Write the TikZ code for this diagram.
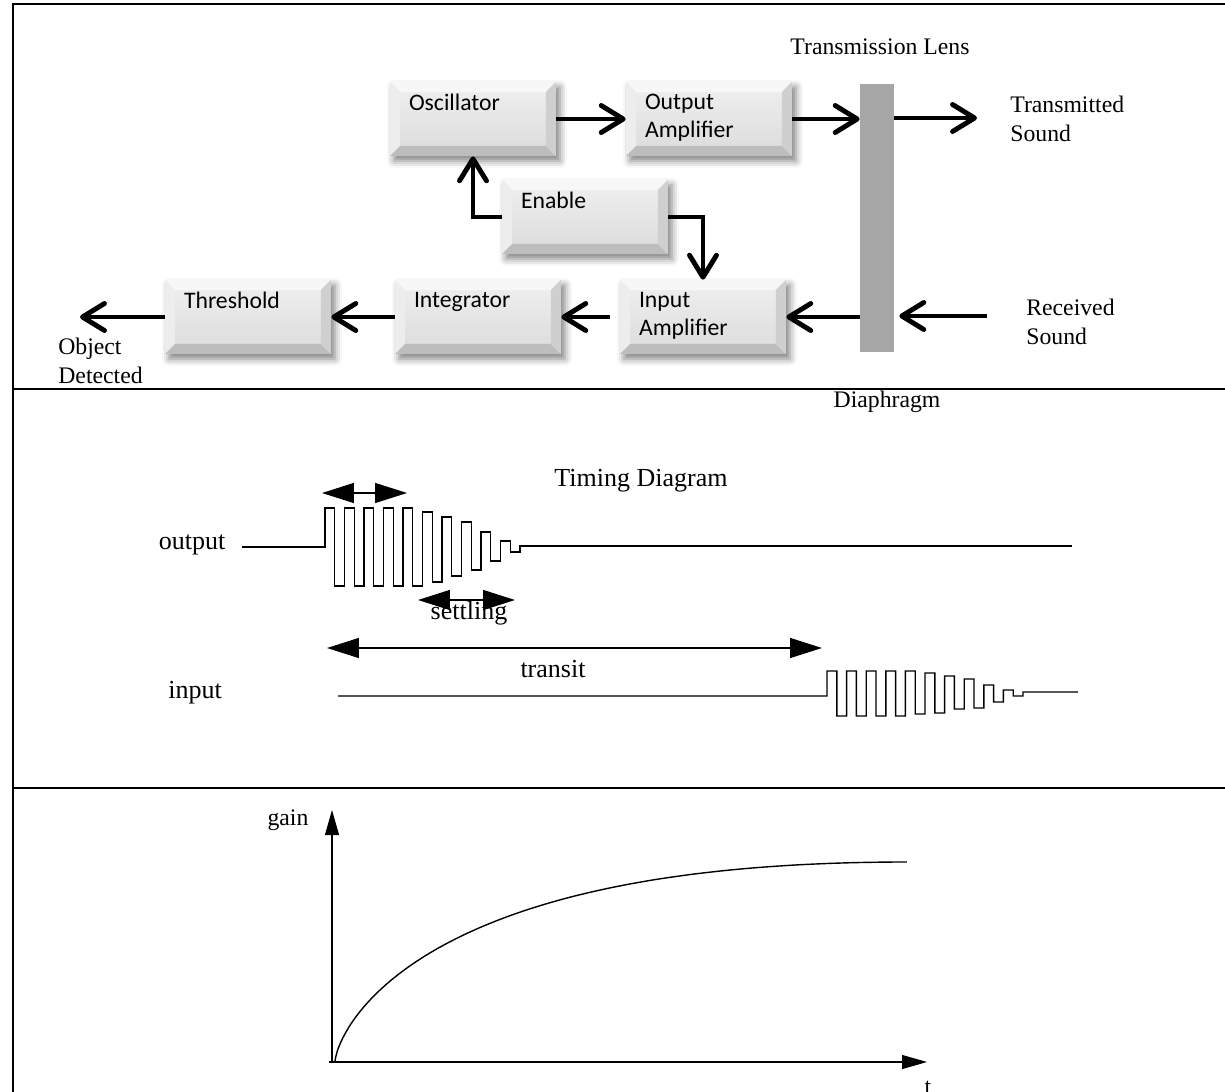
\documentclass[tikz,border=0pt]{standalone}
\usepackage{fontspec}
\setmainfont{Liberation Serif}
\newfontfamily\blkfont{Carlito}
\usetikzlibrary{arrows.meta,shadows.blur}

\tikzset{
  frame/.style={line width=1.7pt},
  lbl/.style={inner sep=0pt, align=left, font=\fontsize{13.5}{16.4}\selectfont},
  tlbl/.style={inner sep=0pt, font=\fontsize{14.8}{17}\selectfont},
  blk/.style={rectangle, minimum width=3.32cm, minimum height=1.48cm, inner sep=0pt,
    top color=black!6, bottom color=black!14,
    blur shadow={shadow xshift=0.08cm, shadow yshift=-0.1cm, shadow blur radius=0.14cm, shadow opacity=50},
    path picture={
      \path (path picture bounding box.north west) coordinate (pnw)
            (path picture bounding box.north east) coordinate (pne)
            (path picture bounding box.south west) coordinate (psw)
            (path picture bounding box.south east) coordinate (pse);
      \fill[black!3] (pnw) -- (pne) -- ([shift={(-0.2cm,-0.2cm)}]pne) -- ([shift={(0.2cm,-0.2cm)}]pnw) -- cycle;
      \fill[black!7] (pnw) -- ([shift={(0.2cm,-0.2cm)}]pnw) -- ([shift={(0.2cm,0.2cm)}]psw) -- (psw) -- cycle;
      \fill[black!26] (psw) -- ([shift={(0.2cm,0.2cm)}]psw) -- ([shift={(-0.2cm,0.2cm)}]pse) -- (pse) -- cycle;
      \fill[black!19] (pse) -- ([shift={(-0.2cm,0.2cm)}]pse) -- ([shift={(-0.2cm,-0.2cm)}]pne) -- (pne) -- cycle;
    }},
  blktxt/.style={anchor=north west, xshift=0.38cm, yshift=-0.245cm, inner sep=0pt, align=left,
    font=\blkfont\fontsize{13.5}{15.9}\selectfont},
  lens/.style={rectangle, fill=black!35, minimum width=0.68cm, minimum height=5.38cm, inner sep=0pt},
  flow/.style={line width=2.8pt, -{Straight Barb[length=0.44cm, width=0.54cm, round]}},
  wave/.style={line width=0.8pt},
  dim/.style={line width=0.8pt, arrows={Triangle[length=0.64cm,width=0.4cm]-Triangle[length=0.64cm,width=0.4cm]}},
  axis/.style={line width=0.6pt, -{Triangle[length=0.5cm,width=0.28cm]}}
}

\begin{document}
\begin{tikzpicture}[x=0.02cm, y=-0.02cm]
        % fix the page size
        \useasboundingbox (0,0) rectangle (1225,1092);

        % draw the frame and the panel lines
        \draw[frame] (13,1100) -- (13,4) -- (1230,4);
        \draw[frame] (13,389) -- (1230,389);
        \draw[frame] (13,788) -- (1230,788);

        % draw the blocks
        \node[blk] (osc)    at (473,119) {};
        \node[blk] (outamp) at (709,119) {};
        \node[blk] (enable) at (585,217) {};
        \node[blk] (thresh) at (248,317) {};
        \node[blk] (integ)  at (478,317) {};
        \node[blk] (inamp)  at (703,317) {};

        \node[blktxt] (osc-txt)    at (osc.north west)    {Oscillator};
        \node[blktxt] (outamp-txt) at (outamp.north west) {Output\\Amplifier};
        \node[blktxt] (enable-txt) at (enable.north west) {Enable};
        \node[blktxt] (thresh-txt) at (thresh.north west) {Threshold};
        \node[blktxt] (integ-txt)  at (integ.north west)  {Integrator};
        \node[blktxt] (inamp-txt)  at (inamp.north west)  {Input\\Amplifier};

        % the lens / diaphragm
        \node[lens] (lens) at (877,218) {};
        \node[lbl] (lens-txt) at (880,47) {Transmission Lens};
        \node[lbl] (diaph-txt) at (887,402) {Diaphragm};
        \node[lbl, anchor=west] (txsound) at (1010,119) {Transmitted\\Sound};
        \node[lbl, anchor=west] (rxsound) at (1026,322) {Received\\Sound};
        \node[lbl, anchor=west] (objdet) at (58,361) {Object\\Detected};

        % draw the signal path
        \coordinate (txend) at (977,118);
        \coordinate (rxstart) at (987,316);
        \coordinate (objend) at (80,317);
        \draw[flow] (osc.east) -- (outamp.west);
        \draw[flow] (outamp.east) -- (outamp.east -| lens.west);
        \draw[flow] (lens.east |- txend) -- (txend);
        \draw[flow, shorten >=0.1cm] (rxstart) -- (rxstart -| lens.east);
        \draw[flow] (lens.west |- inamp.east) -- (inamp.east);
        \draw[flow, shorten <=0.2cm] (inamp.west) -- (integ.east);
        \draw[flow] (integ.west) -- (thresh.east);
        \draw[flow] (thresh.west) -- (objend);
        \draw[flow] (enable.west) -| (osc.south);
        \draw[flow] (enable.east) -| (inamp.north);

        % timing diagram
        \node[tlbl] (td-txt) at (641,481) {Timing Diagram};
        \node[tlbl] (out-txt) at (192,545) {output};
        \node[tlbl] (in-txt) at (195,693) {input};

        % output burst
        \draw[wave] (242,547) -- (325,547)
            \foreach \a/\b [count=\i] in {39/39,39/39,39/39,39/39,39/39,35/35,30/29,25/23,15/14,6/5}
                { -- ({325+19.5*(\i-1)},{547-\a}) -- ({315.25+19.5*\i},{547-\a})
                  -- ({315.25+19.5*\i},{547+\b}) -- ({325+19.5*\i},{547+\b}) }
            -- (520,546) -- (1072,546);

        % echo burst
        \draw[wave] (338,696) -- (827,696)
            \foreach \a/\b [count=\i] in {25/20,25/20,25/20,25/20,25/18,23/17,20/13,17/12,11/6,6/0}
                { -- ({827+19.6*(\i-1)},{696-\a}) -- ({817.2+19.6*\i},{696-\a})
                  -- ({817.2+19.6*\i},{696+\b}) -- ({827+19.6*\i},{696+\b}) }
            -- (1023,692) -- (1078,692);

        % the time spans
        \coordinate (per-a) at (322,493);
        \coordinate (per-b) at (407,493);
        \coordinate (set-a) at (418,600);
        \coordinate (set-b) at (515,600);
        \coordinate (trn-a) at (327,648);
        \coordinate (trn-b) at (822,648);
        \draw[dim] (per-a) -- (per-b);
        \draw[dim] (set-a) -- (set-b);
        \draw[dim] (trn-a) -- (trn-b);
        \node[tlbl] (set-txt) at (469,613) {settling};
        \node[tlbl] (trn-txt) at (553,669) {transit};

        % gain over time
        \coordinate (origin) at (332,1062);
        \draw[axis] (origin) -- (332,810);
        \draw[axis] (329,1062) -- (927,1062);
        \node[lbl] (gain-txt) at (288,820) {gain};
        \node[lbl, anchor=base] (t-txt) at (928,1094) {t};
        \draw[wave] (335,1062) -- plot[domain=0.005:1, samples=100]
            ({335+573*\x*\x}, {1062-200*(1-(1-\x)^2)^1.4});
\end{tikzpicture}
\end{document}
